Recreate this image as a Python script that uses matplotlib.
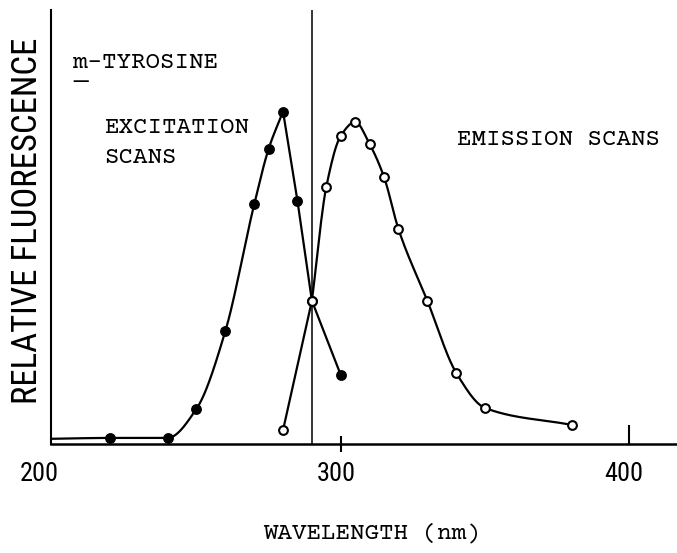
import numpy as np
import matplotlib
matplotlib.use("Agg")
import matplotlib.pyplot as plt
import matplotlib.lines as mlines
from matplotlib.transforms import ScaledTranslation

# excitation scan (filled points), relative fluorescence
ex_wl = [200, 220, 240, 250, 260, 270, 275, 280, 285, 290, 300]
ex_fl = [1.2, 1.4, 1.4, 8.1, 26.0, 55.2, 68.0, 76.6, 56.0, 33.0, 15.9]

# emission scan (open points)
em_wl = [280, 290, 295, 300, 305, 310, 315, 320, 330, 340, 350, 380]
em_fl = [3.2, 33.0, 59.3, 71.0, 74.2, 69.1, 61.5, 49.5, 33.0, 16.4, 8.3, 4.4]

ex_line_wl = 290
xticks = [200, 300, 400]

mono = ["Courier Prime", "Cutive Mono", "Nimbus Mono PS", "FreeMono", "Liberation Mono"]
narrow = ["Roboto Condensed", "Archivo Narrow", "Sofia Sans Condensed", "DejaVu Sans"]


def smooth(x, y, n=200):
    # monotone cubic (pchip) through the points, for a drawn-by-hand look
    x = np.asarray(x, float)
    y = np.asarray(y, float)
    h = np.diff(x)
    d = np.diff(y) / h
    m = np.zeros_like(y)
    m[0], m[-1] = d[0], d[-1]
    for k in range(1, len(x) - 1):
        if d[k - 1] * d[k] > 0:
            w1 = 2 * h[k] + h[k - 1]
            w2 = h[k] + 2 * h[k - 1]
            m[k] = (w1 + w2) / (w1 / d[k - 1] + w2 / d[k])
    xs = np.linspace(x[0], x[-1], n)
    idx = np.clip(np.searchsorted(x, xs) - 1, 0, len(x) - 2)
    t = (xs - x[idx]) / h[idx]
    h00 = 2 * t**3 - 3 * t**2 + 1
    h10 = t**3 - 2 * t**2 + t
    h01 = -2 * t**3 + 3 * t**2
    h11 = t**3 - t**2
    ys = h00 * y[idx] + h10 * h[idx] * m[idx] + h01 * y[idx + 1] + h11 * h[idx] * m[idx + 1]
    return xs, ys


fig = plt.figure(figsize=(6.77, 5.53), dpi=100)
ax = fig.add_axes([0.0749, 0.1971, 0.9251, 0.7848])

# excitation: rounded rise up to the peak, straight fall after it
pk = int(np.argmax(ex_fl))
sx, sy = smooth(ex_wl[:pk + 1], ex_fl[:pk + 1])
ax.plot(sx, sy, color="black", lw=1.6)
ax.plot(ex_wl[pk:], ex_fl[pk:], color="black", lw=1.6)
ax.plot(ex_wl[1:], ex_fl[1:], "o", color="black", ms=6.8, zorder=4)

# emission: straight first step, then a smooth curve
ax.plot(em_wl[:2], em_fl[:2], color="black", lw=1.6)
sx, sy = smooth(em_wl[1:], em_fl[1:])
ax.plot(sx, sy, color="black", lw=1.6)
ax.plot(em_wl, em_fl, "o", mfc="white", mec="black", mew=1.5, ms=6.3, zorder=5)

ax.axvline(ex_line_wl, color="black", lw=1.1, zorder=1)

ax.set_xlim(199.5, 416.5)
ax.set_ylim(0, 100)
for s in ["top", "right"]:
    ax.spines[s].set_visible(False)
ax.spines["left"].set_linewidth(1.5)
ax.spines["bottom"].set_linewidth(1.8)

ax.set_yticks([])
ax.set_xticks(xticks)
ax.set_xticklabels([str(t) for t in xticks], fontsize=19, family=narrow)
ax.tick_params(axis="x", direction="inout", length=12, width=1.5, pad=7)
ticks = ax.xaxis.get_major_ticks()
ticks[0].tick1line.set_visible(False)
ticks[2].tick1line.set_marker(mlines.TICKUP)
ticks[2].tick1line.set_markersize(14)
# hand-lettered numbers sit a little left of their ticks
for lab, dx in zip(ax.get_xticklabels(), [-13, -5, -6]):
    lab.set_transform(lab.get_transform() + ScaledTranslation(dx / 100, 0, fig.dpi_scale_trans))

ax.set_xlabel("WAVELENGTH (nm)", family=mono, fontsize=17.5, va="center")
ax.xaxis.set_label_coords(0.513, -0.205)
ax.set_ylabel("RELATIVE FLUORESCENCE", family=narrow, fontsize=25, va="center")
ax.yaxis.set_label_coords(-0.037, 0.515)

tx = dict(transform=ax.transAxes, family=mono, fontsize=17.5, ha="left", va="baseline")
ax.text(0.0356, 0.866, "m-TYROSINE", **tx)
ax.text(0.0356, 0.846, "_", **tx)
ax.text(0.085, 0.7166, "EXCITATION", **tx)
ax.text(0.085, 0.6475, "SCANS", **tx)
ax.text(0.6487, 0.689, "EMISSION SCANS", **tx)

fig.savefig("out.png", dpi=100)
